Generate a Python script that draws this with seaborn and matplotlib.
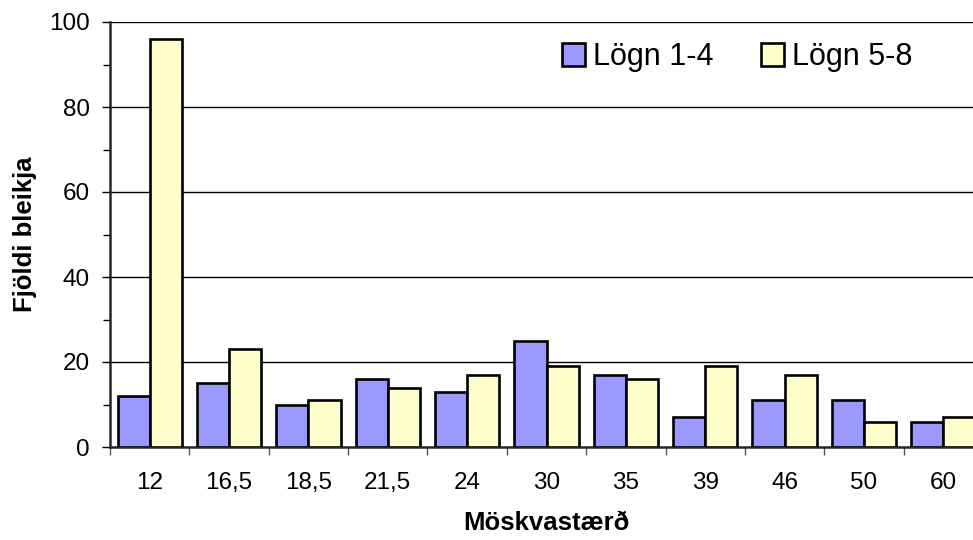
import numpy as np
import pandas as pd
import matplotlib
matplotlib.use('Agg')
import matplotlib.pyplot as plt
import seaborn as sns
from matplotlib.ticker import MultipleLocator

sns.set_style('ticks')
plt.rcParams['font.family'] = ['Liberation Sans', 'DejaVu Sans']
plt.rcParams['text.color'] = 'black'
plt.rcParams['xtick.color'] = 'black'
plt.rcParams['ytick.color'] = 'black'
plt.rcParams['axes.labelcolor'] = 'black'

# Data
mesh = ['12', '16,5', '18,5', '21,5', '24', '30', '35', '39', '46', '50', '60']
logn_1_4 = [12, 15, 10, 16, 13, 25, 17, 7, 11, 11, 6]
logn_5_8 = [96, 23, 11, 14, 17, 19, 16, 19, 17, 6, 7]
series = ['Lögn 1-4', 'Lögn 5-8']
colors = ['#9999FF', '#FFFFCC']

df = pd.DataFrame({
    'Möskvastærð': mesh * 2,
    'Fjöldi': logn_1_4 + logn_5_8,
    'Lögn': [series[0]] * len(mesh) + [series[1]] * len(mesh),
})

fig = plt.figure(figsize=(9.73, 5.4), dpi=100)
ax = fig.add_axes([110 / 973, 93 / 540, 873 / 973, 425 / 540])

sns.barplot(data=df, x='Möskvastærð', y='Fjöldi', hue='Lögn',
            palette=colors, width=0.81, edgecolor='black', linewidth=1.9,
            saturation=1, ax=ax, zorder=3)

# gridlines
for v in [20, 40, 60, 80, 100]:
    ax.axhline(v, color='black', linewidth=1.0, zorder=1)

ax.set_ylim(0, 100)
ax.set_xlim(-0.5, 10.5)
ax.yaxis.set_major_locator(MultipleLocator(20))
ax.yaxis.set_minor_locator(MultipleLocator(10))
ax.tick_params(axis='y', which='major', direction='out', length=5.5, width=1,
               labelsize=17.5, pad=9)
ax.tick_params(axis='y', which='minor', direction='out', length=5, width=1)

# x ticks: labels at centres, tick marks on category boundaries
ax.set_xticks(range(len(mesh)))
ax.set_xticklabels(mesh)
ax.set_xticks(np.arange(-0.5, len(mesh) + 0.5, 1), minor=True)
ax.tick_params(axis='x', which='major', length=0, labelsize=17.5, pad=18)
ax.tick_params(axis='x', which='minor', direction='out', length=6, width=1,
               color='#555555')

for s in ['top', 'right']:
    ax.spines[s].set_visible(False)
ax.spines['left'].set_linewidth(1.8)
ax.spines['bottom'].set_linewidth(1.8)

ax.set_xlabel('Möskvastærð', fontsize=18.5, fontweight='bold', labelpad=12)
ax.set_ylabel('Fjöldi bleikja', fontsize=18.5, fontweight='bold', labelpad=9)

ax.get_legend().remove()
handles, labels = ax.get_legend_handles_labels()
fig.legend(handles, labels, loc='center left', bbox_to_anchor=(562 / 973, 1 - 57 / 540),
           ncol=2, frameon=False, fontsize=22, handlelength=0.75,
           handleheight=0.75, handletextpad=0.26, columnspacing=1.55,
           borderpad=0, borderaxespad=0)

fig.savefig('out.png', dpi=100)
